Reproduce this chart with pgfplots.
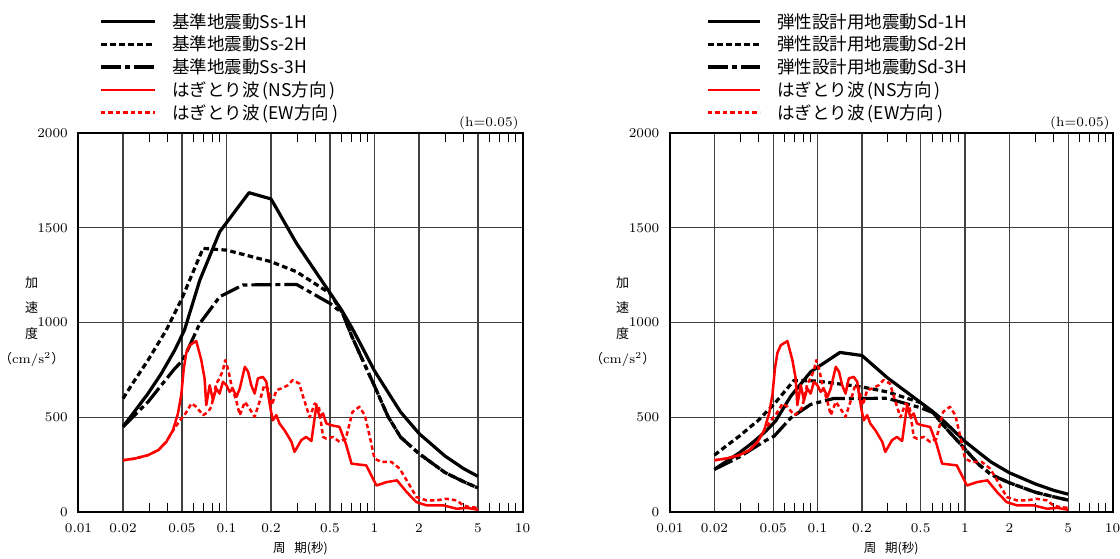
\documentclass[border=0pt]{standalone}
\usepackage{fontspec}
\usepackage{pgfplots}
\usepackage{pgfplotstable}
\pgfplotsset{compat=1.18}
\newfontfamily\cjk{Noto Sans CJK JP}

% Ss (left) design spectra
\pgfplotstableread{
T a
0.02 450
0.0295 625
0.0363 731
0.0447 854
0.052 960
0.066 1223
0.09 1479
0.142 1685
0.2 1652
0.297 1418
0.6 1065
0.7 975
0.8 890
1.0 745
1.25 625
1.5 528
2.0 414
3.0 295
4.0 229
5.0 188
}\SsA
\pgfplotstableread{
T a
0.02 599
0.024 696
0.0295 801
0.0345 889
0.0392 960
0.05 1127
0.0694 1391
0.1 1382
0.2 1321
0.297 1268
0.5 1154
0.61 1048
0.7 930
0.8 830
1.0 665
1.23 506
1.5 395
2.0 308
3.0 208
4.0 160
5.0 127
}\SsB
\pgfplotstableread{
T a
0.02 450
0.0295 581
0.0363 669
0.0447 757
0.0508 801
0.066 995
0.09 1136
0.129 1198
0.297 1201
0.5 1101
0.61 1048
0.7 930
0.8 830
1.0 665
1.23 506
1.5 395
2.0 308
3.0 208
4.0 160
5.0 127
}\SsC
% Sd (right) design spectra
\pgfplotstableread{
T a
0.02 225
0.0295 312
0.0363 366
0.0447 427
0.052 480
0.066 612
0.09 740
0.142 842
0.2 826
0.297 709
0.6 532
0.7 488
0.8 445
1.0 372
1.25 312
1.5 264
2.0 207
3.0 148
4.0 114
5.0 94
}\SdA
\pgfplotstableread{
T a
0.02 300
0.024 348
0.0295 400
0.0345 445
0.0392 480
0.05 563
0.0694 695
0.1 691
0.2 660
0.297 634
0.5 577
0.61 524
0.7 465
0.8 415
1.0 332
1.23 253
1.5 198
2.0 154
3.0 104
4.0 80
5.0 63
}\SdB
\pgfplotstableread{
T a
0.02 225
0.0295 290
0.0363 334
0.0447 378
0.0508 400
0.066 497
0.09 568
0.129 599
0.297 600
0.5 550
0.61 524
0.7 465
0.8 415
1.0 332
1.23 253
1.5 198
2.0 154
3.0 104
4.0 80
5.0 63
}\SdC
% stripped waves
\pgfplotstableread{
T a
0.02 273
0.024 282
0.0295 300
0.0345 326
0.0392 370
0.0435 432
0.047 520
0.0495 620
0.0515 760
0.0535 840
0.0564 880
0.0625 902
0.0676 801
0.0711 705
0.073 564
0.077 669
0.081 590
0.0853 652
0.0898 625
0.0946 687
0.0998 669
0.105 634
0.11 652
0.117 608
0.123 652
0.133 766
0.14 740
0.147 669
0.155 625
0.163 705
0.176 713
0.186 687
0.19 634
0.199 537
0.206 484
0.217 511
0.228 467
0.247 431
0.275 370
0.288 317
0.32 379
0.345 396
0.375 375
0.405 563
0.426 502
0.449 520
0.473 467
0.51 458
0.58 449
0.64 361
0.70 255
0.88 246
1.03 140
1.21 158
1.42 167
1.65 105
1.92 52
2.25 35
2.92 35
3.6 17
4.2 22
5.0 12
}\NS
\pgfplotstableread{
T a
0.02 273
0.024 282
0.0295 300
0.0345 326
0.0392 370
0.0435 430
0.0495 493
0.052 511
0.058 573
0.0625 555
0.0695 511
0.075 528
0.079 555
0.0853 678
0.0898 705
0.0946 748
0.098 801
0.103 748
0.108 669
0.117 581
0.123 511
0.133 581
0.143 546
0.155 502
0.167 581
0.18 669
0.19 652
0.203 564
0.217 643
0.235 652
0.26 669
0.28 696
0.31 678
0.33 607
0.365 500
0.395 572
0.42 560
0.449 396
0.473 387
0.525 396
0.58 370
0.64 387
0.71 528
0.79 555
0.86 511
0.93 396
1.0 282
1.11 264
1.30 264
1.48 229
1.65 167
1.92 79
2.25 61
2.62 61
3.05 70
3.6 61
3.97 35
4.38 26
5.0 22
}\EW

\pgfplotsset{
    scale only axis, height=189.5pt,
    xmin=0.01, xmax=10, ymin=0, ymax=2000,
    xtick={0.01,0.02,0.05,0.1,0.2,0.5,1,2,5,10},
    xticklabels={0.01,0.02,0.05,0.1,0.2,0.5,1,2,5,10},
    minor xtick={0.03,0.04,0.06,0.07,0.08,0.09,0.3,0.4,0.6,0.7,0.8,0.9,3,4,6,7,8,9},
    ytick={0,500,1000,1500,2000},
    yticklabels={0,500,1000,1500,2000},
    grid=major,
    major grid style={black!75, line width=0.6pt},
    major tick length=0pt,
    minor tick length=4.5pt,
    minor tick style={line width=0.6pt, black},
    axis line style={line width=1pt},
    tick label style={font=\fontsize{6.7}{8}\selectfont},
    yticklabel style={xshift=-1.8pt},
    xticklabel style={yshift=-2.1pt},
    no marks,
    legend cell align=left,
}
\tikzset{
  sA/.style={black, line width=1.6pt, line join=round},
  sB/.style={black, line width=1.6pt, line join=round, dash pattern=on 2.8pt off 1.7pt},
  sC/.style={black, line width=1.6pt, line join=round, dash pattern=on 10pt off 2pt on 2.5pt off 2pt},
  rA/.style={red, line width=1.25pt, line join=round},
  rB/.style={red, line width=1.25pt, line join=round, dash pattern=on 2.2pt off 1.5pt},
}

\begin{document}
\begin{tikzpicture}
\path[use as bounding box] (0,0) rectangle (560pt,279pt);

\begin{semilogxaxis}[width=222pt, at={(39.25pt,23pt)}, anchor=south west,
  legend image code/.code={\draw[#1] (0pt,3.3pt) -- (26.8pt,3.3pt);},
  legend style={at={(0,1)}, anchor=north west, xshift=10.5pt, yshift=58.2pt,
    draw=none, fill=none, inner sep=0pt, outer sep=0pt, column sep=8pt, row sep=0pt,
    font=\cjk\fontsize{8.75}{10}\selectfont,
    nodes={inner sep=0pt, text height=5.7pt, text depth=5.7pt}},
  legend entries={基準地震動Ss-1H, 基準地震動Ss-2H, 基準地震動Ss-3H, はぎとり波\,(NS方向\,), はぎとり波\,(EW方向\,)}]
\addplot[sA] table[x=T,y=a] {\SsA};
\addplot[sB] table[x=T,y=a] {\SsB};
\addplot[sC] table[x=T,y=a] {\SsC};
\addplot[rA] table[x=T,y=a] {\NS};
\addplot[rB] table[x=T,y=a] {\EW};
\end{semilogxaxis}

\begin{semilogxaxis}[width=221.25pt, at={(335pt,23pt)}, anchor=south west,
  legend image code/.code={\draw[#1] (0pt,3.3pt) -- (25.9pt,3.3pt);},
  legend style={at={(0,1)}, anchor=north west, xshift=18.2pt, yshift=58.2pt,
    draw=none, fill=none, inner sep=0pt, outer sep=0pt, column sep=8pt, row sep=0pt,
    font=\cjk\fontsize{8.75}{10}\selectfont,
    nodes={inner sep=0pt, text height=5.7pt, text depth=5.7pt}},
  legend entries={弾性設計用地震動Sd-1H, 弾性設計用地震動Sd-2H, 弾性設計用地震動Sd-3H, はぎとり波\,(NS方向\,), はぎとり波\,(EW方向\,)}]
\addplot[sA] table[x=T,y=a] {\SdA};
\addplot[sB] table[x=T,y=a] {\SdB};
\addplot[sC] table[x=T,y=a] {\SdC};
\addplot[rA] table[x=T,y=a] {\NS};
\addplot[rB] table[x=T,y=a] {\EW};
\end{semilogxaxis}

% annotations
\node[anchor=base east, inner sep=0pt, font=\fontsize{6.7}{8}\selectfont] at (259.5pt,215.8pt) {(h=0.05)};
\node[anchor=base east, inner sep=0pt, font=\fontsize{6.7}{8}\selectfont] at (555pt,215.8pt) {(h=0.05)};

\node[align=center, inner sep=0pt, font=\fontsize{6.5}{12.75}\selectfont] at (15.85pt,118.15pt)
  {{\cjk 加}\\{\cjk 速}\\{\cjk 度}\\{\cjk （}cm/s\textsuperscript{2}{\cjk ）}};
\node[align=center, inner sep=0pt, font=\fontsize{6.5}{12.75}\selectfont] at (311.35pt,118.15pt)
  {{\cjk 加}\\{\cjk 速}\\{\cjk 度}\\{\cjk （}cm/s\textsuperscript{2}{\cjk ）}};

\node[inner sep=0pt, font=\cjk\fontsize{6.25}{8}\selectfont] at (150.25pt,5pt) {周\hspace{0.7em}期(秒)};
\node[inner sep=0pt, font=\cjk\fontsize{6.25}{8}\selectfont] at (445.6pt,5pt) {周\hspace{0.7em}期(秒)};
\end{tikzpicture}
\end{document}
